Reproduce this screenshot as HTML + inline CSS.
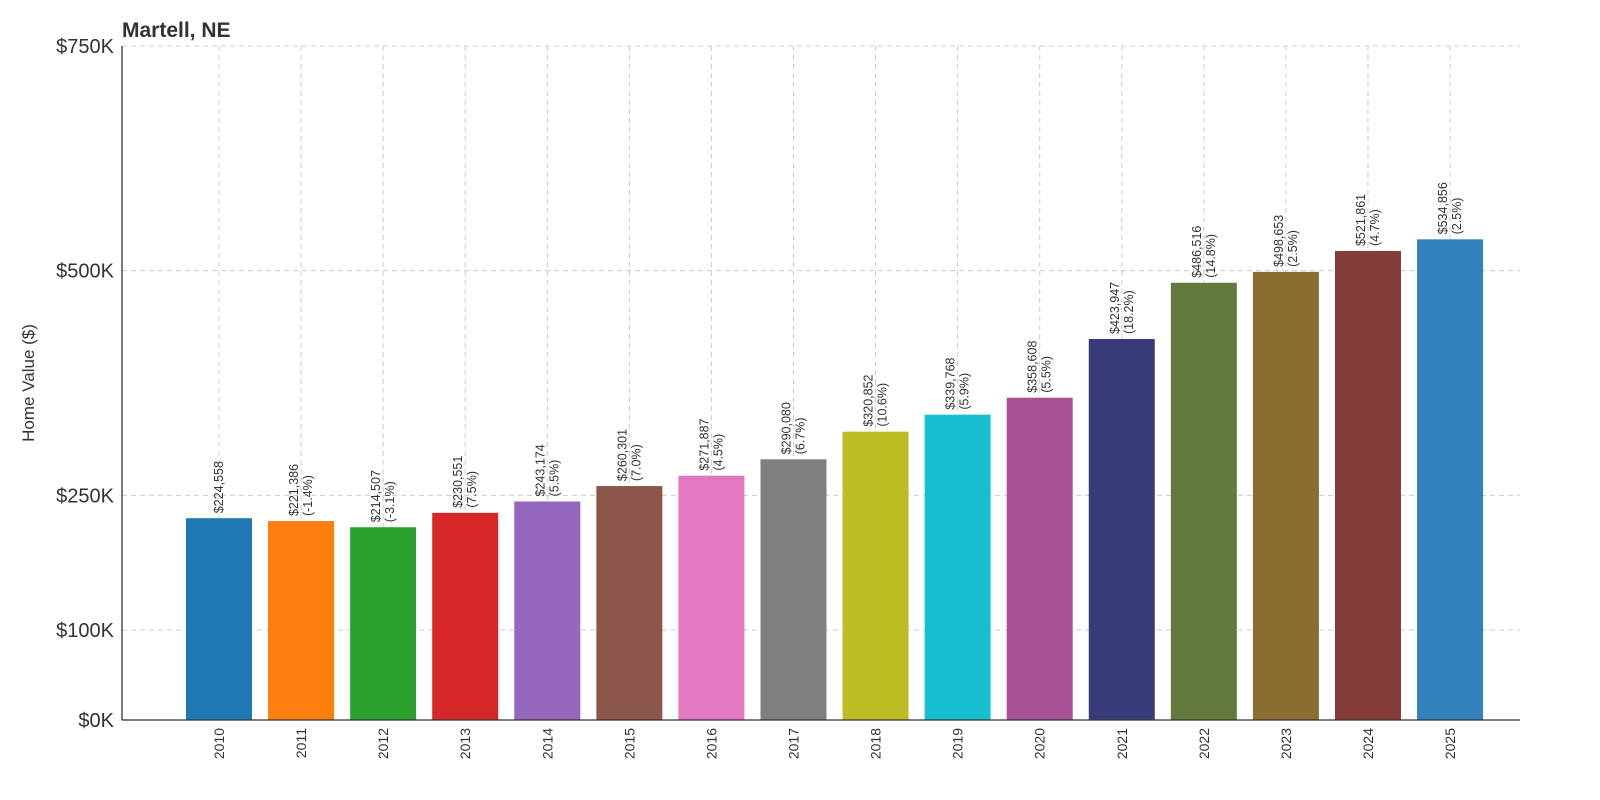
<!DOCTYPE html>
<html><head><meta charset="utf-8"><style>
body{margin:0;background:#fff;}
svg{display:block;font-family:"Liberation Sans","DejaVu Sans",sans-serif;}
</style></head><body>
<svg id="chart" width="1600" height="800" viewBox="0 0 1600 800">
<text x="122" y="37" font-size="21" font-weight="bold" fill="#333">Martell, NE</text>
<text transform="translate(34,383) rotate(-90)" text-anchor="middle" font-size="17" fill="#333">Home Value ($)</text>
<g id="grid"></g><g id="bars"></g><g id="labels"></g><g id="axes"></g>
</svg>
<script>
const years=["2010","2011","2012","2013","2014","2015","2016","2017","2018","2019","2020","2021","2022","2023","2024","2025"];
const values=[224558,221386,214507,230551,243174,260301,271887,290080,320852,339768,358608,423947,486516,498653,521861,534856];
const pctLabels=["","(-1.4%)","(-3.1%)","(7.5%)","(5.5%)","(7.0%)","(4.5%)","(6.7%)","(10.6%)","(5.9%)","(5.5%)","(18.2%)","(14.8%)","(2.5%)","(4.7%)","(2.5%)"];
const yTicks=[0,100000,250000,500000,750000];
const yTickLabels=["$0K","$100K","$250K","$500K","$750K"];
const colors=["#1f77b4","#ff7f0e","#2ca02c","#d62728","#9467bd","#8c564b","#e377c2","#7f7f7f","#bcbd22","#17becf","#a55194","#393b79","#637939","#8c6d31","#843c39","#3182bd"];
const NS="http://www.w3.org/2000/svg";
const L=122,R=1520,T=46,B=720;
const y=v=>B-(v/750000)*(B-T);
const x=i=>219+i*82.07;
const bw=66;
function mk(tag,attrs,parent){const e=document.createElementNS(NS,tag);for(const k in attrs)e.setAttribute(k,attrs[k]);parent.appendChild(e);return e;}
const grid=document.getElementById('grid'),bars=document.getElementById('bars'),labels=document.getElementById('labels'),axes=document.getElementById('axes');
yTicks.forEach((t,i)=>{
  const g=mk('line',{x1:L,x2:R,y1:y(t),y2:y(t),stroke:"#ccc","stroke-dasharray":"5,4","stroke-width":1},grid);
  
  
  const tl=mk('text',{x:L-8,y:y(t)+7,"text-anchor":"end","font-size":20,fill:"#333"},axes);
  tl.textContent=yTickLabels[i];
  
  
});
years.forEach((yr,i)=>{
  const cx=x(i);
  const g=mk('line',{x1:cx,x2:cx,y1:T,y2:B,stroke:"#ccc","stroke-dasharray":"5,4","stroke-width":1},grid);
  
  
  const r=mk('rect',{x:cx-bw/2,y:y(values[i]),width:bw,height:B-y(values[i]),fill:colors[i]},bars);
  
  
  const top=y(values[i])-5;
  const val='$'+values[i].toLocaleString('en-US');
  const hasPct=pctLabels[i]!=="";
  const t1=mk('text',{transform:`translate(${hasPct?cx-3:cx+4},${top}) rotate(-90)`,"font-size":12.5,fill:"#333"},labels);
  t1.textContent=val;
  
  
  if(hasPct){
    const t2=mk('text',{transform:`translate(${cx+11},${top}) rotate(-90)`,"font-size":12.5,fill:"#333"},labels);
    t2.textContent=pctLabels[i];
    
    
  }
  const xl=mk('text',{transform:`translate(${cx+5},${728}) rotate(-90)`,"text-anchor":"end","font-size":14,fill:"#333"},axes);
  xl.textContent=yr;
  
  
});
const ya=mk('line',{x1:L,x2:L,y1:T,y2:B,stroke:"#333","stroke-width":1.3},axes);


const xa=mk('line',{x1:L,x2:R,y1:B,y2:B,stroke:"#333","stroke-width":1.3},axes);


</script>
</body></html>
